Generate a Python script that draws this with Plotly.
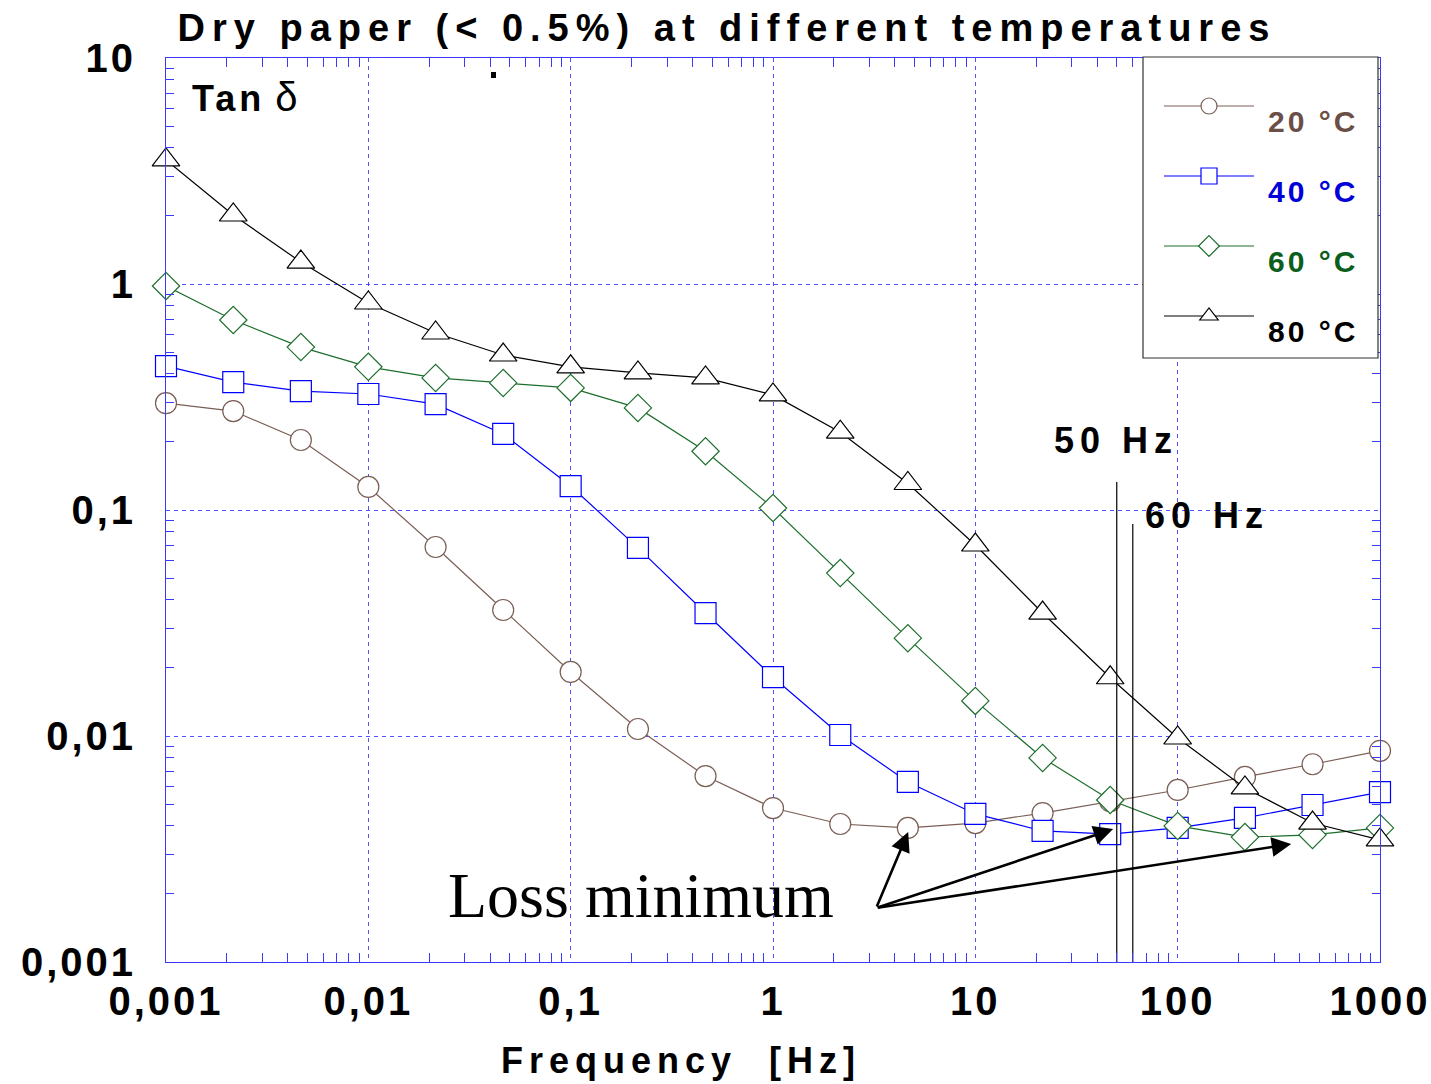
import plotly.graph_objects as go

# Frequency grid (Hz), three points per decade
freq = [0.001, 0.00215, 0.00464, 0.01, 0.0215, 0.0464, 0.1, 0.215, 0.464,
        1, 2.15, 4.64, 10, 21.5, 46.4, 100, 215, 464, 1000]

# Loss factor tan(delta) of dry paper at each temperature
tan_20 = [0.297, 0.274, 0.204, 0.1265, 0.0686, 0.0361, 0.0192, 0.01074, 0.00665,
          0.0048, 0.00408, 0.00392, 0.00412, 0.00456, 0.00515, 0.00577, 0.00659, 0.0075, 0.0086]
tan_40 = [0.433, 0.368, 0.336, 0.326, 0.294, 0.217, 0.1276, 0.068, 0.035,
          0.0182, 0.0101, 0.00626, 0.00452, 0.0038, 0.00368, 0.00392, 0.00434, 0.00495, 0.00565]
tan_60 = [0.98, 0.693, 0.526, 0.43, 0.384, 0.365, 0.347, 0.283, 0.182,
          0.102, 0.0526, 0.0271, 0.0143, 0.0080, 0.00521, 0.0040, 0.00357, 0.00365, 0.00392]
tan_80 = [3.54, 2.02, 1.25, 0.824, 0.607, 0.485, 0.430, 0.404, 0.384,
          0.323, 0.221, 0.131, 0.070, 0.035, 0.0181, 0.0098, 0.00589, 0.00412, 0.00347]

series_names = ["20 °C", "40 °C", "60 °C", "80 °C"]
series_values = [tan_20, tan_40, tan_60, tan_80]
line_colors = ["#7a5e55", "#0000ff", "#1d6e2c", "#000000"]
text_colors = ["#6b4f47", "#0000d8", "#0b5e1c", "#000000"]
symbols = ["circle", "square", "diamond", "triangle-up"]
marker_sizes = [21, 21, 21, 24]

x_tickvals = [0.001, 0.01, 0.1, 1, 10, 100, 1000]
x_ticktext = ["0,001", "0,01", "0,1", "1", "10", "100", "1000"]
y_tickvals = [0.001, 0.01, 0.1, 1, 10]
y_ticktext = ["0,001", "0,01", "0,1", "1", "10"]

# Grid frequencies of 50 Hz and 60 Hz, with the height of their marker lines
mains_freq = [50, 60]
mains_top = [0.133, 0.0867]
mains_labels = ["50 Hz", "60 Hz"]

W, H = 1431, 1084
ML, MR, MT, MB = 166, 51, 58, 122
PW, PH = W - ML - MR, H - MT - MB

AX = "#3a3aff"
GRID = "rgba(50,50,255,0.85)"
FONT = "Liberation Sans, Arial, sans-serif"


def spaced(txt, px):
    return f"<span style='letter-spacing:{px}px'>{txt}</span>"


def px_x(x):
    return (x - ML) / PW


def px_y(y):
    return (H - MB - y) / PH


fig = go.Figure()

for name, vals, lc, tc, sym, ms in zip(series_names, series_values, line_colors,
                                        text_colors, symbols, marker_sizes):
    fig.add_trace(go.Scatter(
        x=freq, y=vals, mode="lines+markers",
        name=(f"<span style='color:{tc};letter-spacing:3px;baseline-shift:-14px'>"
              f"\u2009{name}</span>"),
        legendgroup=name,
        line=dict(color=lc, width=1.2),
        marker=dict(symbol=sym, size=ms, color="white",
                    line=dict(color=lc, width=1.2)),
        cliponaxis=False,
    ))

# Vertical marker lines at the mains frequencies
for f, top in zip(mains_freq, mains_top):
    fig.add_trace(go.Scatter(
        x=[f, f], y=[0.001, top], mode="lines",
        line=dict(color="black", width=1.2), showlegend=False, hoverinfo="skip",
    ))

minor_vals = [m * 10 ** e for e in range(-3, 3) for m in range(2, 10)]
minor_vals_y = [m * 10 ** e for e in range(-3, 1) for m in range(2, 10)]

tick_font = dict(family=FONT, size=40, color="black", weight="bold")

fig.update_xaxes(
    type="log", range=[-3, 3],
    tickvals=x_tickvals, ticktext=[spaced(t, 3) for t in x_ticktext], ticks="",
    tickfont=tick_font, ticklabelstandoff=4,
    showline=True, linecolor=AX, linewidth=1, mirror="ticks",
    showgrid=True, gridcolor=GRID, gridwidth=1, griddash="4px,4px",
    minor=dict(tickvals=minor_vals, ticks="inside", ticklen=9,
               tickcolor=AX, tickwidth=1, showgrid=False),
    zeroline=False,
)
fig.update_yaxes(
    type="log", range=[-3, 1],
    tickvals=y_tickvals, ticktext=[spaced(t, 3) for t in y_ticktext], ticks="",
    tickfont=tick_font, ticklabelstandoff=21,
    showline=True, linecolor=AX, linewidth=1, mirror="ticks",
    showgrid=True, gridcolor=GRID, gridwidth=1, griddash="4px,4px",
    minor=dict(tickvals=minor_vals_y, ticks="inside", ticklen=8,
               tickcolor=AX, tickwidth=1, showgrid=False),
    zeroline=False,
)

annotations = [
    dict(text="<b>" + spaced("Tan", 4) + "</b>&nbsp;<span style='font-size:40px'>δ</span>",
         x=px_x(190), y=px_y(97),
         xref="paper", yref="paper", xanchor="left", yanchor="middle",
         showarrow=False, font=dict(family=FONT, size=36, color="black")),
    dict(text="Loss minimum", x=px_x(641), y=px_y(895), xref="paper", yref="paper",
         xanchor="center", yanchor="middle", showarrow=False,
         font=dict(family="Liberation Serif, Times New Roman, serif", size=64, color="black")),
    dict(text="<b>" + spaced("Frequency&nbsp;&nbsp;[Hz]", 6) + "</b>",
         x=px_x(681), y=px_y(1060), xref="paper", yref="paper",
         xanchor="center", yanchor="middle", showarrow=False,
         font=dict(family=FONT, size=36, color="black")),
]
for lab, cx, cy in zip(mains_labels, [1116, 1207], [441, 515]):
    annotations.append(dict(
        text="<b>" + spaced(lab, 6) + "</b>", x=px_x(cx), y=px_y(cy),
        xref="paper", yref="paper", xanchor="center", yanchor="middle",
        showarrow=False, font=dict(family=FONT, size=36, color="black")))

# Arrows from the label to the loss minima (log10 coordinates)
tail = (0.510, -2.761)
for hx, hy in [(0.668, -2.425), (1.681, -2.412), (2.561, -2.478)]:
    annotations.append(dict(
        x=hx, y=hy, ax=tail[0], ay=tail[1], xref="x", yref="y",
        axref="x", ayref="y", text="", showarrow=True,
        arrowhead=2, arrowsize=1.5, arrowwidth=2.6, arrowcolor="black",
        standoff=0, startstandoff=0))

fig.update_layout(
    width=W, height=H,
    margin=dict(l=ML, r=MR, t=MT, b=MB, autoexpand=False),
    paper_bgcolor="white", plot_bgcolor="white",
    title=dict(text="<b>" + spaced("Dry paper (&lt; 0.5%) at different temperatures", 7) + "</b>",
               x=727 / W, xanchor="center", y=1 - 28 / H, yanchor="middle",
               font=dict(family=FONT, size=38, color="black")),
    annotations=annotations,
    shapes=[
        dict(type="rect", xref="paper", yref="paper",
             x0=px_x(1143), x1=px_x(1378), y0=px_y(358), y1=px_y(57),
             line=dict(color="#333333", width=1.2), fillcolor="white", layer="above"),
        dict(type="rect", xref="paper", yref="paper",
             x0=px_x(491), x1=px_x(496), y0=px_y(78), y1=px_y(72),
             line=dict(width=0), fillcolor="black", layer="above"),
    ],
    legend=dict(x=px_x(1159), y=px_y(80), xanchor="left", yanchor="top",
                bgcolor="rgba(0,0,0,0)", borderwidth=0,
                font=dict(family=FONT, size=30, color="black", weight="bold"),
                itemwidth=90, tracegroupgap=28, itemclick=False),
    showlegend=True,
)

fig.write_html("out.html")
